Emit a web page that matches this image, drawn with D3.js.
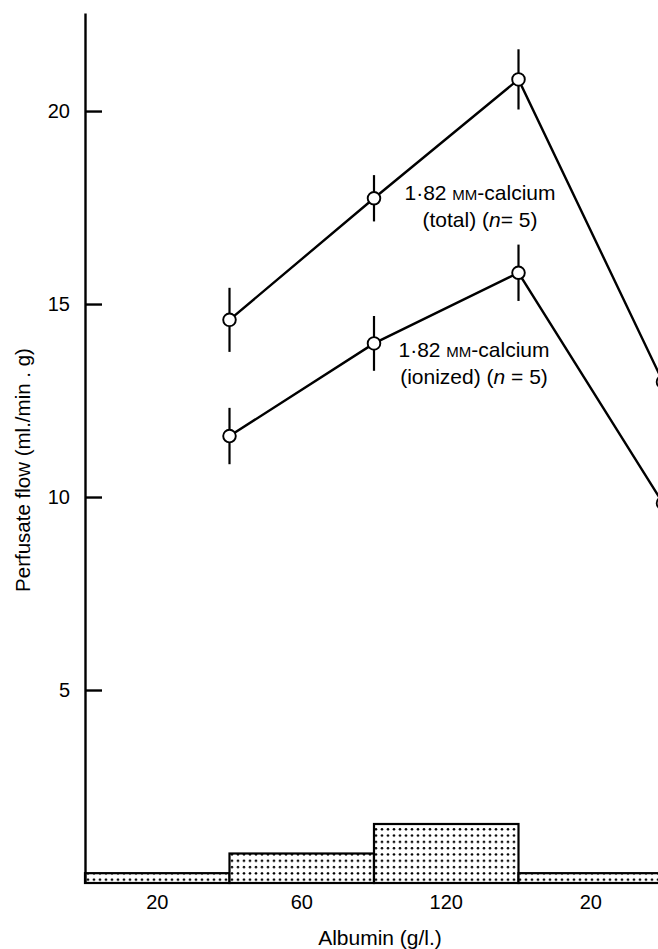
<!DOCTYPE html>
<html>
<head>
<meta charset="utf-8">
<script src="https://cdn.jsdelivr.net/npm/d3@7/dist/d3.min.js"></script>
<style>
  html, body { margin: 0; padding: 0; background: #fff; }
  svg { display: block; }
  text { font-family: "Liberation Sans", Arial, Helvetica, sans-serif; fill: #000; }
</style>
</head>
<body>
<svg id="chart" width="658" height="949"></svg>
<script>
// ---- Data ----
const periodLabels = ["20", "60", "120", "20"];        // albumin (g/l.) per period
const albumin = [20, 60, 120, 20];                     // histogram heights
const samplePos = [1, 2, 3, 4];                        // samples taken at end of each period
const totalFlow = [14.59, 17.74, 20.82, 12.98];
const totalSem = [0.83, 0.60, 0.78, 0.80];
const ionizedFlow = [11.58, 13.98, 15.81, 9.84];
const ionizedSem = [0.73, 0.71, 0.73, 0.72];
const yTicks = [5, 10, 15, 20];

// ---- Layout ----
const svg = d3.select("#chart");
const x0 = 85, baseY = 883, topY = 13;
const x = d3.scaleLinear().domain([0, 4]).range([x0, x0 + 4 * 144.5]);
const y = d3.scaleLinear().domain([0, 22.54]).range([baseY, topY]);
const hScale = d3.scaleLinear().domain([0, 120]).range([baseY, baseY - 59]);

// dot pattern
const defs = svg.append("defs");
const pat = defs.append("pattern").attr("id", "dots")
  .attr("patternUnits", "userSpaceOnUse").attr("width", 6).attr("height", 6.3)
  .attr("x", x0).attr("y", baseY);
pat.append("rect").attr("width", 6).attr("height", 6.3).attr("fill", "#fff");
pat.append("circle").attr("cx", 3).attr("cy", 3).attr("r", 1.3).attr("fill", "#000");

// histogram
svg.append("g").selectAll("rect").data(albumin).join("rect")
  .attr("x", (d, i) => x(i))
  .attr("width", (d, i) => x(i + 1) - x(i))
  .attr("y", d => hScale(d))
  .attr("height", d => baseY - hScale(d))
  .attr("fill", "url(#dots)")
  .attr("stroke", "#000").attr("stroke-width", 2.2);

// y axis
const yAxis = d3.axisLeft(y).tickValues(yTicks).tickSize(-17).tickSizeOuter(0).tickPadding(15);
const gy = svg.append("g").attr("transform", `translate(${x0},0)`).call(yAxis);
gy.select(".domain").attr("stroke-width", 2.4);
gy.selectAll(".tick line").attr("stroke-width", 2.4);
gy.selectAll(".tick text").style("font-size", "20px").attr("fill", "#000");

// x axis labels (no ticks)
const xBand = d3.scaleBand().domain(d3.range(periodLabels.length)).range([x(0), x(4)]);
const xAxis = d3.axisBottom(xBand).tickSize(0).tickPadding(12).tickFormat(i => periodLabels[i]);
const gx = svg.append("g").attr("transform", `translate(0,${baseY})`).call(xAxis);
gx.select(".domain").remove();
gx.selectAll(".tick text").style("font-size", "20px").attr("fill", "#000");

// axis titles
svg.append("text").attr("x", 380).attr("y", 945).attr("text-anchor", "middle")
  .style("font-size", "21px").text("Albumin (g/l.)");
svg.append("text").attr("transform", "translate(30,470) rotate(-90)").attr("text-anchor", "middle")
  .style("font-size", "20.5px").text("Perfusate flow (ml./min . g)");

// series
function drawSeries(vals, sems) {
  const g = svg.append("g");
  g.append("path").datum(vals)
    .attr("fill", "none").attr("stroke", "#000").attr("stroke-width", 2.4)
    .attr("d", d3.line().x((d, i) => x(samplePos[i])).y(d => y(d)));
  g.selectAll("line.err").data(vals).join("line").attr("class", "err")
    .attr("x1", (d, i) => x(samplePos[i])).attr("x2", (d, i) => x(samplePos[i]))
    .attr("y1", (d, i) => y(d + sems[i])).attr("y2", (d, i) => y(d - sems[i]))
    .attr("stroke", "#000").attr("stroke-width", 2.2);
  g.selectAll("circle").data(vals).join("circle")
    .attr("cx", (d, i) => x(samplePos[i])).attr("cy", d => y(d)).attr("r", 6.3)
    .attr("fill", "#fff").attr("stroke", "#000").attr("stroke-width", 1.9);
}
drawSeries(totalFlow, totalSem);
drawSeries(ionizedFlow, ionizedSem);

// annotations
function label(cx, y1, kind, eqSpace) {
  const t1 = svg.append("text").attr("x", cx).attr("y", y1).attr("text-anchor", "middle").style("font-size", "21px");
  t1.append("tspan").text("1·82 ");
  t1.append("tspan").style("font-variant", "small-caps").text("mm");
  t1.append("tspan").text("-calcium");
  const t2 = svg.append("text").attr("x", cx).attr("y", y1 + 27).attr("text-anchor", "middle").style("font-size", "21px");
  t2.append("tspan").text(`(${kind}) (`);
  t2.append("tspan").style("font-style", "italic").text("n");
  t2.append("tspan").text(eqSpace ? " = 5)" : "= 5)");
}
label(480, 200, "total", false);
label(474, 357, "ionized", true);
</script>
</body>
</html>
